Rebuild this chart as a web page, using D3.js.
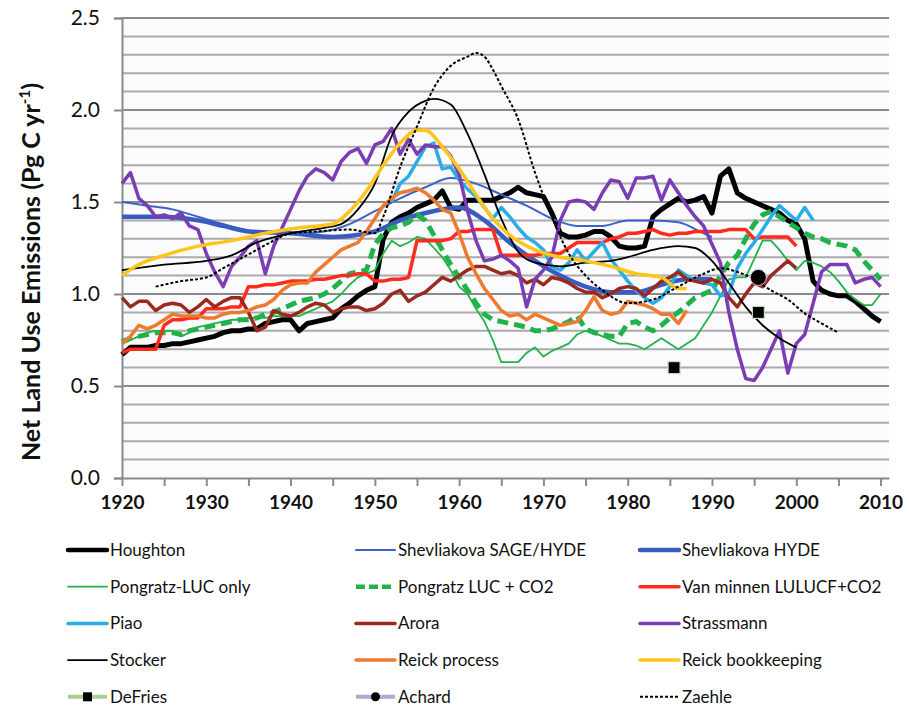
<!DOCTYPE html>
<html>
<head>
<meta charset="utf-8">
<script src="https://cdn.jsdelivr.net/npm/d3@7"></script>
<style>
  body { margin: 0; background: #ffffff; }
  svg { display: block; font-family: Lato, "Open Sans", sans-serif; }
</style>
</head>
<body>
<div id="chart"></div>
<script>
// --- data (Pg C / yr) ---
const houghtonStart = 1920;
const houghton = [0.67,0.71,0.71,0.71,0.72,0.72,0.73,0.73,0.74,0.75,
  0.76,0.77,0.79,0.80,0.80,0.81,0.81,0.84,0.85,0.86,
  0.86,0.80,0.84,0.85,0.86,0.87,0.92,0.95,0.99,1.02,
  1.04,1.30,1.39,1.42,1.44,1.47,1.49,1.51,1.56,1.47,
  1.46,1.51,1.51,1.51,1.51,1.53,1.55,1.58,1.55,1.54,
  1.53,1.44,1.33,1.31,1.31,1.32,1.34,1.34,1.31,1.26,
  1.25,1.25,1.26,1.42,1.46,1.49,1.52,1.50,1.51,1.53,
  1.44,1.64,1.68,1.55,1.52,1.50,1.48,1.46,1.44,1.40,
  1.38,1.30,1.07,1.02,1.00,0.99,0.99,0.96,0.92,0.88,0.85];

const shevSageYears = [1920,1923,1926,1929,1932,1935,1938,1941,1944,1947,1950,1953,1956,1959,1962,1965,1968,1971,1974,1977,1980,1983,1986,1989,1990];
const shevSage      = [1.50,1.48,1.46,1.42,1.38,1.345,1.33,1.33,1.34,1.38,1.45,1.52,1.58,1.63,1.60,1.54,1.48,1.41,1.37,1.37,1.40,1.40,1.39,1.33,1.31];

const shevHydeYears = [1920,1925,1929,1932,1935,1940,1945,1950,1953,1956,1960,1963,1966,1969,1972,1975,1978,1981,1984,1987,1990];
const shevHyde      = [1.42,1.42,1.40,1.37,1.34,1.33,1.31,1.34,1.40,1.44,1.47,1.40,1.28,1.18,1.10,1.04,1.01,1.01,1.05,1.08,1.08];

const pongLucStart = 1920;
const pongLuc = [0.73,0.75,0.77,0.79,0.80,0.80,0.80,0.77,0.79,0.82,
  0.83,0.84,0.85,0.86,0.86,0.87,0.87,0.87,0.88,0.88,
  0.88,0.88,0.90,0.92,0.94,0.96,1.00,1.05,1.09,1.11,
  1.13,1.22,1.29,1.26,1.28,1.31,1.30,1.25,1.20,1.13,
  1.04,1.00,0.92,0.85,0.75,0.63,0.63,0.63,0.68,0.71,
  0.66,0.69,0.71,0.73,0.78,0.80,0.79,0.77,0.75,0.73,
  0.73,0.72,0.70,0.73,0.76,0.73,0.70,0.73,0.76,0.83,
  0.90,0.99,1.08,1.09,1.09,1.19,1.29,1.29,1.24,1.18,
  1.13,1.18,1.17,1.15,1.12,1.07,1.01,0.97,0.94,0.94,1.00];

const pongCo2Start = 1920;
const pongCo2 = [0.74,0.76,0.77,0.78,0.79,0.79,0.79,0.78,0.80,0.81,
  0.82,0.83,0.84,0.85,0.86,0.86,0.87,0.89,0.90,0.92,
  0.94,0.96,0.97,0.98,1.00,1.03,1.07,1.11,1.12,1.13,
  1.27,1.33,1.36,1.37,1.39,1.43,1.40,1.32,1.24,1.16,
  1.09,1.02,0.95,0.89,0.86,0.85,0.84,0.83,0.82,0.80,
  0.80,0.81,0.83,0.85,0.88,0.81,0.79,0.78,0.77,0.77,
  0.84,0.85,0.82,0.80,0.83,0.87,0.90,0.94,0.98,1.00,
  1.02,1.10,1.17,1.21,1.30,1.38,1.43,1.45,1.42,1.39,
  1.36,1.33,1.31,1.30,1.28,1.27,1.26,1.24,1.18,1.13,1.08];

const vanMinnenStart = 1920;
const vanMinnen = [0.68,0.70,0.70,0.70,0.70,0.83,0.86,0.86,0.87,0.87,
  0.92,0.92,0.92,0.93,0.93,1.04,1.04,1.05,1.05,1.06,
  1.07,1.07,1.07,1.08,1.08,1.09,1.10,1.10,1.11,1.11,
  1.07,1.07,1.08,1.08,1.09,1.29,1.29,1.29,1.29,1.30,
  1.34,1.34,1.35,1.35,1.35,1.21,1.21,1.21,1.21,1.21,
  1.22,1.22,1.22,1.25,1.28,1.28,1.28,1.28,1.30,1.31,
  1.33,1.33,1.34,1.35,1.33,1.32,1.33,1.33,1.34,1.34,
  1.34,1.34,1.35,1.35,1.35,1.30,1.31,1.31,1.31,1.31,1.26];

const piaoStart = 1952;
const piao = [1.50,1.60,1.64,1.72,1.80,1.82,1.68,1.69,
  1.62,1.57,1.53,1.47,1.41,1.47,1.42,1.36,1.31,1.28,
  1.24,1.15,1.13,1.17,1.24,1.18,1.23,1.28,1.19,1.13,
  1.07,1.02,0.98,0.95,0.98,1.04,1.13,1.10,1.07,1.06,
  1.05,0.99,1.00,1.14,1.22,1.28,1.35,1.42,1.48,1.44,
  1.40,1.47,1.40];

const aroraStart = 1920;
const arora = [0.98,0.93,0.96,0.96,0.91,0.94,0.95,0.94,0.90,0.93,
  0.97,0.93,0.96,0.98,0.98,0.90,0.80,0.82,0.91,0.89,
  0.88,0.90,0.93,0.95,0.94,0.90,0.92,0.93,0.93,0.91,
  0.92,0.95,1.00,1.02,0.96,0.99,1.01,1.05,1.09,1.07,
  1.10,1.13,1.15,1.15,1.13,1.11,1.12,1.10,1.06,1.08,
  1.05,1.09,1.08,1.06,1.03,1.01,1.01,0.98,1.00,1.03,
  1.04,1.03,0.99,1.03,1.07,1.09,1.12,1.08,1.07,1.06,
  1.08,1.06,0.98,0.93,1.00,1.06,1.04,1.10,1.14,1.18,1.14];

const strassmannStart = 1920;
const strassmann = [1.60,1.66,1.52,1.48,1.42,1.43,1.41,1.44,1.37,1.35,
  1.22,1.12,1.04,1.15,1.20,1.26,1.29,1.11,1.26,1.36,
  1.46,1.56,1.64,1.68,1.66,1.62,1.72,1.77,1.79,1.71,
  1.81,1.83,1.90,1.76,1.84,1.76,1.81,1.80,1.80,1.75,
  1.65,1.45,1.29,1.18,1.19,1.21,1.18,1.14,0.93,1.08,
  1.13,1.20,1.40,1.50,1.51,1.50,1.46,1.55,1.62,1.61,
  1.52,1.63,1.63,1.64,1.51,1.62,1.55,1.48,1.42,1.37,
  1.27,1.17,0.90,0.70,0.54,0.53,0.60,0.70,0.80,0.57,
  0.73,0.78,0.95,1.12,1.16,1.16,1.16,1.06,1.08,1.09,1.04];

const stockerYears = [1920,1925,1930,1933,1936,1940,1944,1946,1948,1950,1952,1954,1956,1957,1959,1961,1963,1965,1967,1969,1972,1975,1978,1980,1983,1986,1988,1990,1992,1994,1996,1998,2000];
const stocker      = [1.13,1.16,1.18,1.21,1.28,1.33,1.36,1.38,1.46,1.60,1.86,1.99,2.05,2.06,2.03,1.87,1.65,1.41,1.23,1.17,1.15,1.17,1.18,1.20,1.24,1.26,1.25,1.18,1.06,0.93,0.83,0.76,0.71];

const reickProcStart = 1920;
const reickProc = [0.73,0.77,0.83,0.81,0.83,0.86,0.89,0.88,0.88,0.88,
  0.87,0.87,0.89,0.90,0.90,0.91,0.93,0.94,0.97,1.02,
  1.05,1.06,1.06,1.12,1.16,1.20,1.24,1.26,1.28,1.34,
  1.41,1.48,1.52,1.55,1.56,1.575,1.55,1.51,1.46,1.44,
  1.33,1.20,1.11,1.03,0.97,0.91,0.88,0.89,0.86,0.89,
  0.87,0.85,0.83,0.84,0.85,0.91,0.985,0.91,0.89,0.90,
  0.96,0.95,0.94,0.92,0.89,0.89,0.84,0.91];

const reickBookYears = [1920,1922,1925,1929,1933,1937,1941,1945,1947,1949,1951,1953,1955,1956,1958,1960,1962,1964,1966,1969,1972,1975,1978,1981,1984,1986,1987];
const reickBook      = [1.10,1.16,1.21,1.26,1.29,1.33,1.36,1.38,1.45,1.56,1.70,1.82,1.89,1.89,1.80,1.68,1.54,1.41,1.32,1.24,1.20,1.18,1.15,1.11,1.09,1.03,1.03];

const zaehleYears = [1924,1927,1930,1932,1934,1936,1938,1940,1943,1947,1950,1951,1953,1955,1957,1959,1961,1962,1963,1964,1965,1967,1969,1971,1973,1975,1977,1980,1983,1986,1989,1991,1993,1995,1997,1999,2001,2003,2005];
const zaehle      = [1.04,1.07,1.09,1.14,1.19,1.24,1.29,1.33,1.34,1.35,1.33,1.42,1.69,1.91,2.12,2.24,2.29,2.31,2.29,2.22,2.13,1.95,1.66,1.42,1.22,1.10,1.02,0.95,0.97,1.04,1.11,1.14,1.12,1.08,1.02,0.97,0.895,0.84,0.79];

const defriesYears = [1985.5, 1995.5];
const defries      = [0.60, 0.90];
const achardYears  = [1995.5];
const achard       = [1.09];

const xTicks = d3.range(1920, 2011, 5);
const xLabels = d3.range(1920, 2011, 10);
const yTicks = [0, 0.5, 1.0, 1.5, 2.0, 2.5];

// --- helpers ---
function yearly(start, vals) { return vals.map((v, i) => ({year: start + i, v: v})); }
function paired(years, vals) { return years.map((yr, i) => ({year: yr, v: vals[i]})); }

const series = [
  {name: "Houghton", data: yearly(houghtonStart, houghton), color: "#000000", width: 5},
  {name: "Shevliakova SAGE/HYDE", data: paired(shevSageYears, shevSage), color: "#3b63c6", width: 2, smooth: true},
  {name: "Shevliakova HYDE", data: paired(shevHydeYears, shevHyde), color: "#3a5cbf", width: 4.5, smooth: true},
  {name: "Pongratz-LUC only", data: yearly(pongLucStart, pongLuc), color: "#22b24c", width: 1.8},
  {name: "Pongratz LUC + CO2", data: yearly(pongCo2Start, pongCo2), color: "#22b24c", width: 5, dash: "11,6"},
  {name: "Van minnen LULUCF+CO2", data: yearly(vanMinnenStart, vanMinnen), color: "#ff2b1c", width: 3.5},
  {name: "Piao", data: yearly(piaoStart, piao), color: "#2aade6", width: 3.5},
  {name: "Arora", data: yearly(aroraStart, arora), color: "#9a2a1e", width: 3.5},
  {name: "Strassmann", data: yearly(strassmannStart, strassmann), color: "#7a3db2", width: 3.5},
  {name: "Stocker", data: paired(stockerYears, stocker), color: "#000000", width: 1.8, smooth: true},
  {name: "Reick process", data: yearly(reickProcStart, reickProc), color: "#ee7a2e", width: 3.5},
  {name: "Reick bookkeeping", data: paired(reickBookYears, reickBook), color: "#ffc51a", width: 3.5, smooth: true},
  {name: "DeFries", data: paired(defriesYears, defries), marker: "square", legendColor: "#a9d08e"},
  {name: "Achard", data: paired(achardYears, achard), marker: "circle", legendColor: "#b3a6d4"},
  {name: "Zaehle", data: paired(zaehleYears, zaehle), color: "#000000", width: 2, dash: "3,2", smooth: true}
];

// --- layout ---
const W = 909, H = 711;
const plot = {left: 122, right: 889, top: 18, bottom: 478};

const svg = d3.select("#chart").append("svg")
  .attr("width", W).attr("height", H);

svg.append("rect").attr("width", W).attr("height", H).attr("fill", "#ffffff");
svg.append("rect")
  .attr("x", plot.left).attr("y", plot.top)
  .attr("width", plot.right - plot.left).attr("height", plot.bottom - plot.top)
  .attr("fill", "#fbfbfd");

const x = d3.scaleLinear().domain([1920, 2011]).range([plot.left, plot.right]);
const y = d3.scaleLinear().domain([0, 2.5]).range([plot.bottom, plot.top]);

// gridlines every 0.1, darker at the labelled ones
const grid = svg.append("g");
grid.selectAll("line")
  .data(d3.range(1, 26).map(d => d / 10))
  .enter().append("line")
  .attr("x1", plot.left).attr("x2", plot.right)
  .attr("y1", d => y(d)).attr("y2", d => y(d))
  .attr("stroke", d => (Math.round(d * 10) % 5 === 0) ? "#8a8a8a" : "#aaaaaa")
  .attr("stroke-width", 2);

// y axis
const yAxis = svg.append("g")
  .attr("transform", `translate(${plot.left},0)`)
  .call(d3.axisLeft(y).tickValues(yTicks).tickFormat(d3.format(".1f")).tickSize(8).tickPadding(14));
yAxis.select(".domain").attr("stroke", "#8a8a8a").attr("stroke-width", 2);
yAxis.selectAll(".tick line").attr("stroke", "#8a8a8a").attr("stroke-width", 2);
yAxis.selectAll(".tick text").attr("font-size", 21).attr("fill", "#111").attr("font-family", "Lato, sans-serif");

// x axis
const xAxis = svg.append("g")
  .attr("transform", `translate(0,${plot.bottom})`)
  .call(d3.axisBottom(x).tickValues(xTicks).tickFormat(d => xLabels.includes(d) ? d : "").tickSize(8).tickPadding(10).tickSizeOuter(0));
xAxis.select(".domain").attr("stroke", "#8a8a8a").attr("stroke-width", 2);
xAxis.selectAll(".tick line").attr("stroke", "#8a8a8a").attr("stroke-width", 2);
xAxis.selectAll(".tick text").attr("font-size", 19).attr("font-weight", "bold").attr("fill", "#111").attr("font-family", "Lato, sans-serif");

// y axis title
const title = svg.append("text")
  .attr("transform", "translate(40,272) rotate(-90)")
  .attr("text-anchor", "middle")
  .attr("font-size", 25).attr("font-weight", "bold").attr("fill", "#111");
title.append("tspan").text("Net Land Use Emissions  (Pg C yr");
title.append("tspan").attr("font-size", 15).attr("dy", -10).text("-1");
title.append("tspan").attr("dy", 10).text(")");

// lines
const straight = d3.line().x(d => x(d.year)).y(d => y(d.v));
const smooth = d3.line().x(d => x(d.year)).y(d => y(d.v)).curve(d3.curveMonotoneX);

const lines = svg.append("g");
series.filter(s => !s.marker).forEach(s => {
  lines.append("path")
    .datum(s.data)
    .attr("d", s.smooth ? smooth : straight)
    .attr("fill", "none")
    .attr("stroke", s.color)
    .attr("stroke-width", s.width)
    .attr("stroke-linejoin", "round")
    .attr("stroke-dasharray", s.dash || null);
});

// point estimates
series.filter(s => s.marker === "square").forEach(s => {
  svg.append("g").selectAll("rect").data(s.data).enter().append("rect")
    .attr("x", d => x(d.year) - 6).attr("y", d => y(d.v) - 6)
    .attr("width", 12).attr("height", 12)
    .attr("fill", "#000").attr("stroke", "#c9dcb8").attr("stroke-width", 1.2);
});
series.filter(s => s.marker === "circle").forEach(s => {
  svg.append("g").selectAll("circle").data(s.data).enter().append("circle")
    .attr("cx", d => x(d.year)).attr("cy", d => y(d.v)).attr("r", 8)
    .attr("fill", "#000").attr("stroke", "#cfc6e4").attr("stroke-width", 1);
});

// legend, 3 columns
const legCols = [68, 356, 640];
const legRow0 = 550, legRowStep = 36.7, legLen = 39;
const legend = svg.append("g");
series.forEach((s, i) => {
  const lx = legCols[i % 3];
  const ly = legRow0 + Math.floor(i / 3) * legRowStep;
  const g = legend.append("g").attr("transform", `translate(${lx},${ly})`);
  if (s.marker) {
    g.append("line").attr("x1", 0).attr("x2", legLen).attr("y1", 0).attr("y2", 0)
      .attr("stroke", s.legendColor).attr("stroke-width", 4);
    if (s.marker === "square") {
      g.append("rect").attr("x", legLen / 2 - 4.5).attr("y", -4.5).attr("width", 9).attr("height", 9).attr("fill", "#000");
    } else {
      g.append("circle").attr("cx", legLen / 2).attr("cy", 0).attr("r", 4.5).attr("fill", "#000");
    }
  } else {
    g.append("line").attr("x1", 0).attr("x2", legLen).attr("y1", 0).attr("y2", 0)
      .attr("stroke", s.color)
      .attr("stroke-width", Math.min(s.width, 4.5))
      .attr("stroke-linecap", s.dash ? "butt" : "round")
      .attr("stroke-dasharray", s.dash === "11,6" ? "9,4" : (s.dash || null));
  }
  g.append("text")
    .attr("x", legLen + 3).attr("y", 0).attr("dy", "0.35em")
    .attr("font-size", 17).attr("fill", "#111")
    .text(s.name);
});
</script>
</body>
</html>
